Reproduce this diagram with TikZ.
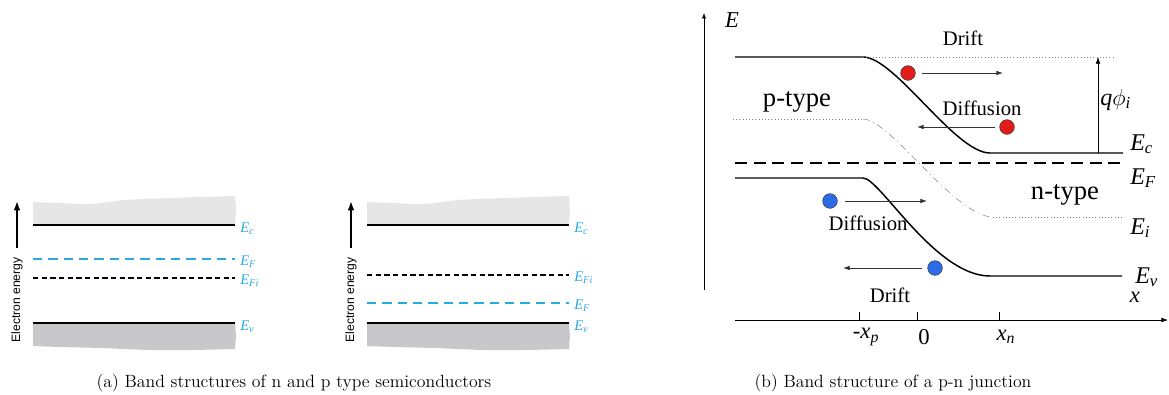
\documentclass[tikz,border=0pt]{standalone}
\usepackage{fontspec}
\usepackage{amsmath}
\usetikzlibrary{arrows.meta,positioning}
\newfontfamily\tnr{Liberation Serif}
\newfontfamily\hlv{Liberation Sans}
\definecolor{levelblue}{HTML}{29A9E1}
\definecolor{cbandgray}{HTML}{E6E6E6}
\definecolor{vbandgray}{HTML}{C8C8CA}
\definecolor{elecred}{HTML}{E31B1B}
\definecolor{holeblue}{HTML}{2B6BE6}
\newcommand{\sub}[1]{\textsubscript{\textit{#1}}}

\begin{document}
\begin{tikzpicture}[
  x=0.75pt, y=-0.75pt,
  band/.style={line width=1pt},
  lvl/.style={font=\tnr\fontsize{11}{11}\selectfont\itshape, text=levelblue,
              anchor=west, inner sep=0pt},
  eaxis/.style={line width=1.1pt, -{Latex[length=7pt,width=5pt]}},
  pnband/.style={line width=1.1pt},
  carrier/.style={circle, draw=black!75, minimum size=11pt, inner sep=0pt},
  flow/.style={-{Latex[length=5pt,width=3.5pt]}, semithick, black!80},
  lbl/.style={font=\tnr\fontsize{15.5}{15.5}\selectfont},
  big/.style={font=\tnr\fontsize{20}{20}\selectfont},
  elbl/.style={font=\tnr\fontsize{18}{18}\selectfont\itshape, anchor=west, inner sep=0pt},
  captext/.style={font=\fontsize{13.3}{15}\selectfont},
]
  \useasboundingbox (0,0) rectangle (1169,394);

  % (a) n and p type
  \foreach \i/\sx/\yf/\yfi in {1/0/259/278, 2/334/303/275} {
    \begin{scope}[shift={(\sx,0)}]
      \fill[cbandgray] (33,225) -- plot[smooth] coordinates
        {(33,202) (60,203) (90,204) (125,200) (170,198) (235,196)}
        -- (236,210) -- (235,225) -- cycle;
      \fill[vbandgray] (33,323) -- (235,323) -- (236,336) -- plot[smooth] coordinates
        {(235,349) (190,350) (150,350) (100,348) (60,347) (33,346)} -- cycle;
      \draw[band] (33,225) -- (235,225);
      \draw[band] (33,323) -- (235,323);
      \draw[levelblue, line width=1pt, dash pattern=on 7pt off 4.5pt] (33,\yf) -- (235,\yf);
      \draw[black, line width=0.9pt, dash pattern=on 4pt off 2.5pt] (33,\yfi) -- (235,\yfi);
      \node[lvl] (ec\i) at (240,229) {E\sub{c}};
      \node[lvl] (ef\i) at (240,\yf+3) {E\sub{F}};
      \node[lvl] (efi\i) at (240,\yfi+3) {E\sub{Fi}};
      \node[lvl] (ev\i) at (240,327) {E\sub{v}};
      % energy arrow
      \coordinate (ab\i) at (17,248);
      \coordinate (at\i) at (17,201);
      \draw[eaxis] (ab\i) -- (at\i);
      \node[rotate=90, font=\hlv\fontsize{9.1}{9}\selectfont, inner sep=0pt] (en\i)
        at (17,300) {Electron energy};
    \end{scope}
  }
  \node[captext] (capa) at (294,383) {(a) Band structures of n and p type semiconductors};

  % (b) p-n junction axes
  \coordinate (eo) at (704,290);
  \coordinate (et) at (704,13);
  \draw[thin, -{Latex[length=4pt,width=3pt]}] (eo) -- (et);
  \node[font=\tnr\fontsize{17}{17}\selectfont\itshape] (elab) at (732,20) {E};
  \coordinate (xo) at (735,320);
  \coordinate (xe) at (1168,320);
  \draw[thin, -{Latex[length=5pt,width=3.5pt]}] (xo) -- (xe);
  \node[font=\tnr\fontsize{17}{17}\selectfont\itshape] (xlab) at (1135,297) {x};
  \foreach \px/\lab/\nm in {859/{-\textit{x}\sub{p}}/xp, 917/{0}/xz, 999/{\textit{x}\sub{n}}/xn} {
    \draw[thin] (\px,312) -- (\px,320);
    \node[font=\tnr\fontsize{17}{17}\selectfont] (\nm) at (\px+7,337) {\lab};
  }

  % bands
  \draw[pnband] (735,57) -- (863,57) .. controls (895,57) and (955,153) .. (990,153) -- (1123,153);
  \draw[pnband] (735,178) -- (863,178) .. controls (880,178) and (935,276) .. (990,276) -- (1122,276);
  \draw[gray, thin, dotted] (863,57) -- (1115,57);
  \draw[gray, thin, dotted] (733,119) -- (863,119);
  \draw[gray, thin, dash pattern=on 5pt off 3pt on 0.6pt off 3pt]
    (863,119) .. controls (890,119) and (955,217) .. (993,217);
  \draw[gray, thin, dotted] (993,217) -- (1122,217);
  \draw[line width=1.3pt, dash pattern=on 9pt off 5pt] (735,163) -- (1123,163);

  % built-in potential
  \coordinate (qb) at (1098,153);
  \coordinate (qt) at (1098,57);
  \draw[thin, -{Latex[length=5pt,width=3.5pt]}] (qb) -- (qt);
  \node[font=\tnr\fontsize{18}{18}\selectfont\itshape, anchor=west, inner sep=0pt] (qphi)
    at (1100,100) {q$\phi$\sub{i}};

  % band labels
  \node[elbl] (lec) at (1130,144) {E\sub{c}};
  \node[elbl] (lef) at (1130,178) {E\sub{F}};
  \node[elbl] (lei) at (1130,228) {E\sub{i}};
  \node[elbl] (lev) at (1135,277) {E\sub{v}};
  \node[big] (ptype) at (797,102) {p-type};
  \node[big] (ntype) at (1065,195) {n-type};

  % carriers
  \node[carrier, fill=elecred] (el1) at (908,73) {};
  \node[carrier, fill=elecred] (el2) at (1007,127) {};
  \node[carrier, fill=holeblue] (h1) at (830,201) {};
  \node[carrier, fill=holeblue] (h2) at (935,268) {};
  \coordinate (el1e) at (1003,73);
  \coordinate (el2e) at (917,127);
  \coordinate (h1e) at (927,201);
  \coordinate (h2e) at (843,268);
  \draw[flow, shorten <=4.5pt] (el1.east) -- (el1e);
  \draw[flow, shorten <=3.5pt] (el2.west) -- (el2e);
  \draw[flow, shorten <=5.5pt] (h1.east) -- (h1e);
  \draw[flow, shorten <=4pt] (h2.west) -- (h2e);
  \node[lbl] (drift1) at (963,38) {Drift};
  \node[lbl] (diff1) at (982,108) {Diffusion};
  \node[lbl] (diff2) at (868,223) {Diffusion};
  \node[lbl] (drift2) at (890,295) {Drift};

  \node[captext] (capb) at (893,383) {(b) Band structure of a p-n junction};
\end{tikzpicture}
\end{document}
